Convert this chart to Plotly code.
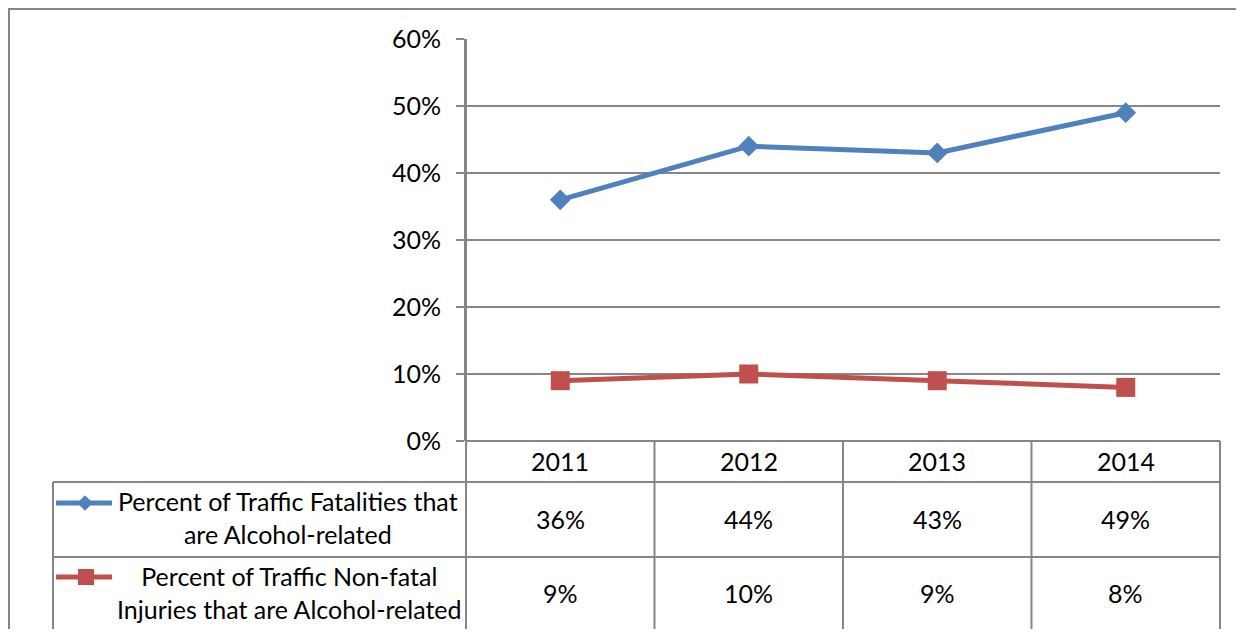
import plotly.graph_objects as go

years = ["2011", "2012", "2013", "2014"]
fatal = [36, 44, 43, 49]
nonfatal = [9, 10, 9, 8]
series_names = ["Percent of Traffic Fatalities that<br>are Alcohol-related",
                "Percent of Traffic Non-fatal<br>Injuries that are Alcohol-related"]
y_ticks = [0, 10, 20, 30, 40, 50, 60]
y_tick_labels = ["0%", "10%", "20%", "30%", "40%", "50%", "60%"]

# the page body adds an 8px margin; the figure is sized to fit the window
OX, OY = 8, 8
FW, FH = 1228, 621
BLUE = "#4F81BD"
RED = "#C0504D"
GRID = "#868686"
FONT = "Lato"
FS = 25

def px(x):
    return (x - OX) / FW

def py(y):
    return 1 - (y - OY) / FH

# layout geometry (window pixels)
PL, PR, PT, PB = 466, 1220, 39, 441
ROW = [441, 482, 557, 630]
TL = 53
cols = [PL + (PR - PL) * i / 4 for i in range(5)]

fig = go.Figure()
xs = list(range(len(years)))
fig.add_trace(go.Scatter(x=xs, y=fatal, mode="lines+markers",
                         line=dict(color=BLUE, width=5),
                         marker=dict(symbol="diamond", size=16, color=BLUE),
                         showlegend=False, hoverinfo="skip"))
fig.add_trace(go.Scatter(x=xs, y=nonfatal, mode="lines+markers",
                         line=dict(color=RED, width=5),
                         marker=dict(symbol="square", size=19, color=RED),
                         showlegend=False, hoverinfo="skip"))

# legend keys in the data table (pixel overlay axis)
key_y = [503, 577]
fig.add_trace(go.Scatter(x=[56, 112], y=[key_y[0]] * 2, mode="lines",
                         line=dict(color=BLUE, width=5), xaxis="x2", yaxis="y2",
                         showlegend=False, hoverinfo="skip"))
fig.add_trace(go.Scatter(x=[85], y=[key_y[0]], mode="markers",
                         marker=dict(symbol="diamond", size=12, color=BLUE),
                         xaxis="x2", yaxis="y2", showlegend=False, hoverinfo="skip"))
fig.add_trace(go.Scatter(x=[56, 112], y=[key_y[1]] * 2, mode="lines",
                         line=dict(color=RED, width=5), xaxis="x2", yaxis="y2",
                         showlegend=False, hoverinfo="skip"))
fig.add_trace(go.Scatter(x=[86], y=[key_y[1]], mode="markers",
                         marker=dict(symbol="square", size=16, color=RED),
                         xaxis="x2", yaxis="y2", showlegend=False, hoverinfo="skip"))

shapes = []
def line(x0, y0, x1, y1):
    shapes.append(dict(type="line", xref="paper", yref="paper",
                       x0=px(x0), y0=py(y0), x1=px(x1), y1=py(y1),
                       line=dict(color=GRID, width=2)))

# outer chart border
shapes.append(dict(type="rect", xref="paper", yref="paper",
                   x0=px(9), y0=-0.05, x1=1.05, y1=py(9),
                   line=dict(color=GRID, width=2)))
# table
line(PL, ROW[0], PR, ROW[0])
for r in ROW[1:]:
    line(TL, r, PR, r)
line(PL, PT, PL, ROW[3])
for c in cols[1:]:
    line(c, ROW[0], c, ROW[3])
line(TL, ROW[1], TL, ROW[3])

annotations = []
def text(x, y, s):
    annotations.append(dict(xref="paper", yref="paper", x=px(x), y=py(y),
                            text=s, showarrow=False, xanchor="center", yanchor="middle",
                            font=dict(family=FONT, size=FS, color="#000000")))

for i, yr in enumerate(years):
    cx = (cols[i] + cols[i + 1]) / 2
    text(cx, (ROW[0] + ROW[1]) / 2 - 1, yr)
    text(cx, (ROW[1] + ROW[2]) / 2 - 1, f"{fatal[i]}%")
    text(cx, (ROW[2] + ROW[3]) / 2 - 1, f"{nonfatal[i]}%")
text(288, (ROW[1] + ROW[2]) / 2 - 2, series_names[0])
text(289, (ROW[2] + ROW[3]) / 2 - 1, series_names[1])

fig.update_layout(
    width=FW, height=FH,
    margin=dict(l=0, r=0, t=0, b=0, autoexpand=False),
    paper_bgcolor="white", plot_bgcolor="rgba(0,0,0,0)",
    font=dict(family=FONT, size=FS, color="#000000"),
    xaxis=dict(domain=[px(PL), px(PR)], range=[-0.5, 3.5], showgrid=False,
               showticklabels=False, zeroline=False, showline=False,
               automargin=False, fixedrange=True),
    yaxis=dict(domain=[py(PB), py(PT)], range=[0, 60], tickvals=y_ticks,
               ticktext=y_tick_labels, showgrid=True, gridcolor=GRID, gridwidth=2,
               zeroline=False, showline=True, linecolor=GRID, linewidth=2,
               ticks="outside", ticklen=8, tickcolor=GRID, tickwidth=2,
               ticklabelstandoff=10, automargin=False,
               tickfont=dict(family=FONT, size=FS, color="#000000")),
    xaxis2=dict(domain=[0, 1], range=[OX, OX + FW], visible=False, anchor="y2",
                automargin=False, fixedrange=True),
    yaxis2=dict(domain=[0, 1], range=[OY + FH, OY], visible=False, anchor="x2",
                automargin=False, fixedrange=True),
    shapes=shapes,
    annotations=annotations,
)

fig.write_html("out.html")
